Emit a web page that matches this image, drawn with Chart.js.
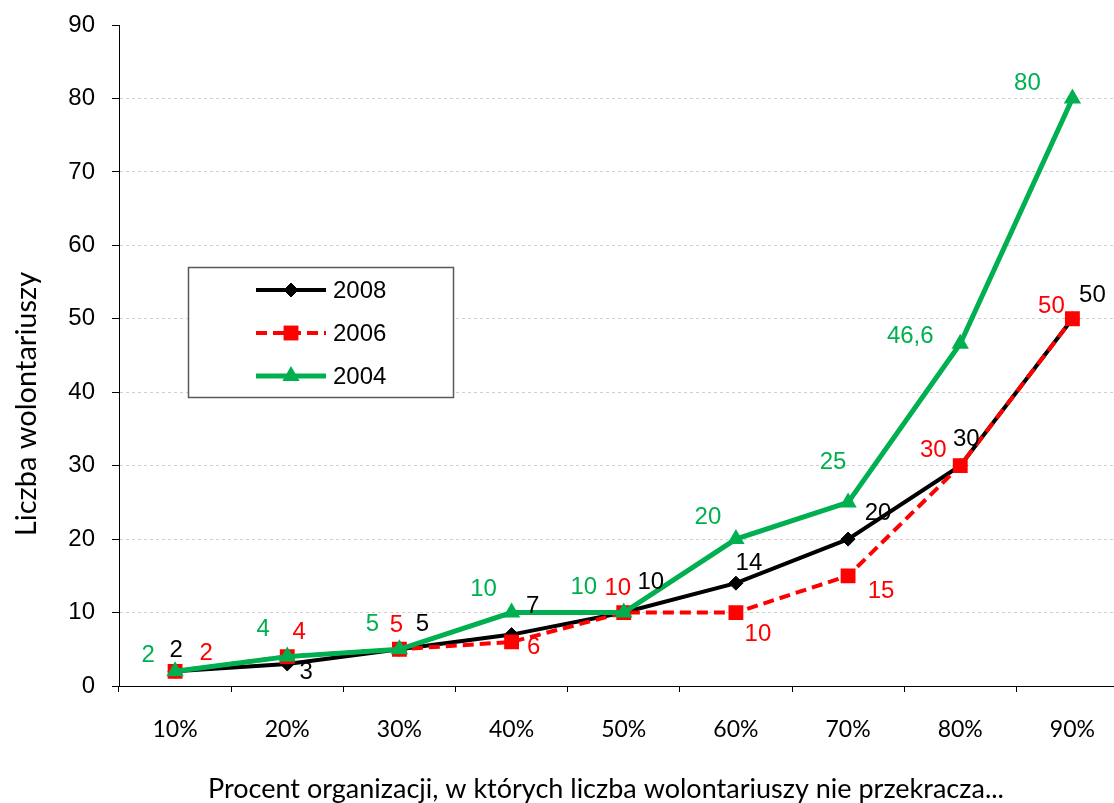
<!DOCTYPE html>
<html>
<head>
<meta charset="utf-8">
<script src="https://cdn.jsdelivr.net/npm/chart.js@4.4.1/dist/chart.umd.min.js"></script>
<style>
  html, body { margin: 0; padding: 0; background: #fff; overflow: hidden; }
  #wrap { width: 1114px; height: 803px; overflow: hidden; position: relative; }
  canvas { display: block; }
</style>
</head>
<body>
<div id="wrap"><canvas id="chart" width="1139" height="803"></canvas></div>
<script>
// ---- data ----
const categories = ['10%', '20%', '30%', '40%', '50%', '60%', '70%', '80%', '90%'];
const seriesNames = ['2008', '2006', '2004'];
const values2008 = [2, 3, 5, 7, 10, 14, 20, 30, 50];
const values2006 = [2, 4, 5, 6, 10, 10, 15, 30, 50];
const values2004 = [2, 4, 5, 10, 10, 20, 25, 46.6, 80];
const yMin = 0, yMax = 90, yStep = 10;
const xTitle = 'Procent organizacji, w których liczba wolontariuszy nie przekracza...';
const yTitle = 'Liczba wolontariuszy';

// ---- value label placement: pixel offsets from each point ----
const labelOffsets2008 = [[1,-21],[19,8],[23,-25],[21,-28],[27,-30],[13,-20],[30,-26],[6,-26],[20,-23]];
const labelOffsets2006 = [[31,-18],[12,-24],[-3,-24],[22,5],[-6,-24],[22,22],[33,16],[-27,-15],[-21,-12]];
const labelOffsets2004 = [[-27,-16],[-24,-27],[-27,-25],[-28,-23],[-40,-25],[-28,-22],[-15,-40],[-50,-7],[-45,-15]];

const ARIAL = "'Liberation Sans', Arial, sans-serif";
const CALI = "Lato, 'Open Sans', sans-serif";

const datasets = [
  {
    label: seriesNames[0], data: values2008,
    borderColor: '#000000', backgroundColor: '#000000',
    borderWidth: 4, pointStyle: 'rectRot', pointRadius: 7, pointBorderWidth: 1,
    pointBackgroundColor: '#000000', pointBorderColor: '#000000',
    order: 3, labelColor: '#000000', labelOffsets: labelOffsets2008
  },
  {
    label: seriesNames[1], data: values2006,
    borderColor: '#ff0000', backgroundColor: '#ff0000',
    borderWidth: 4, borderDash: [11, 6], pointStyle: 'rect', pointRadius: 10.5, pointBorderWidth: 0,
    pointBackgroundColor: '#ff0000', pointBorderColor: '#ff0000',
    order: 2, labelColor: '#ff0000', labelOffsets: labelOffsets2006
  },
  {
    label: seriesNames[2], data: values2004,
    borderColor: '#00b050', backgroundColor: '#00b050',
    borderWidth: 5, pointStyle: 'triangle', pointRadius: 10, pointBorderWidth: 0,
    pointBackgroundColor: '#00b050', pointBorderColor: '#00b050',
    order: 1, labelColor: '#00b050', labelOffsets: labelOffsets2004
  }
];

// value labels next to each point
const valueLabels = {
  id: 'valueLabels',
  afterDatasetsDraw(chart) {
    const ctx = chart.ctx;
    ctx.save();
    ctx.font = '24px ' + ARIAL;
    ctx.textAlign = 'center';
    ctx.textBaseline = 'middle';
    chart.data.datasets.forEach((ds, di) => {
      const meta = chart.getDatasetMeta(di);
      ctx.fillStyle = ds.labelColor;
      meta.data.forEach((pt, i) => {
        const off = ds.labelOffsets[i];
        const txt = String(ds.data[i]).replace('.', ',');
        ctx.fillText(txt, pt.x + off[0], pt.y + off[1]);
      });
    });
    ctx.restore();
  }
};

// boxed legend inside the plot area
const boxLegend = {
  id: 'boxLegend',
  afterDraw(chart) {
    const ctx = chart.ctx;
    const ca = chart.chartArea;
    const bx = ca.left + 69, by = ca.top + 242, bw = 265, bh = 130;
    ctx.save();
    ctx.fillStyle = '#ffffff';
    ctx.fillRect(bx, by, bw, bh);
    ctx.strokeStyle = '#5a5a5a';
    ctx.lineWidth = 1.5;
    ctx.strokeRect(bx + 0.5, by + 0.5, bw, bh);
    chart.data.datasets.forEach((ds, i) => {
      const y = by + 23 + i * 43;
      const x0 = bx + 68, x1 = bx + 138, xm = (x0 + x1) / 2;
      ctx.strokeStyle = ds.borderColor;
      ctx.lineWidth = ds.borderWidth;
      ctx.setLineDash(ds.borderDash || []);
      ctx.beginPath();
      ctx.moveTo(x0, y);
      ctx.lineTo(x1, y);
      ctx.stroke();
      ctx.setLineDash([]);
      ctx.fillStyle = ds.pointBackgroundColor;
      ctx.strokeStyle = ds.pointBorderColor;
      ctx.lineWidth = ds.pointBorderWidth;
      Chart.helpers.drawPoint(ctx, {
        pointStyle: ds.pointStyle, radius: ds.pointRadius, rotation: 0,
        borderWidth: ds.pointBorderWidth
      }, xm, y);
      ctx.fillStyle = '#000000';
      ctx.font = '24px ' + ARIAL;
      ctx.textAlign = 'left';
      ctx.textBaseline = 'middle';
      ctx.fillText(ds.label, x1 + 7, y + 1);
    });
    ctx.restore();
  }
};

// axis titles
const axisTitles = {
  id: 'axisTitles',
  afterDraw(chart) {
    const ctx = chart.ctx;
    ctx.save();
    ctx.fillStyle = '#000000';
    ctx.textAlign = 'center';
    ctx.textBaseline = 'middle';
    ctx.font = '27px ' + CALI;
    ctx.fillText(xTitle, 606, 789);
    ctx.translate(27, 404);
    ctx.rotate(-Math.PI / 2);
    ctx.font = '29px ' + CALI;
    ctx.fillText(yTitle, 0, 0);
    ctx.restore();
  }
};

new Chart(document.getElementById('chart'), {
  type: 'line',
  data: { labels: categories, datasets: datasets },
  options: {
    responsive: false,
    animation: false,
    layout: { padding: { left: 0, right: 3, top: 25, bottom: 0 } },
    elements: { line: { tension: 0, fill: false } },
    plugins: {
      legend: { display: false },
      tooltip: { enabled: false }
    },
    scales: {
      x: {
        offset: true,
        grid: {
          display: true, offset: true, drawOnChartArea: false, drawTicks: true,
          tickLength: 6, color: '#000000', tickColor: '#000000', lineWidth: 1
        },
        border: { display: true, color: '#000000', width: 1 },
        ticks: { color: '#000000', font: { family: CALI, size: 23 }, padding: 24, maxRotation: 0 },
        afterFit(s) { s.height = 117; s.paddingLeft = 0; s.paddingRight = 0; }
      },
      y: {
        min: yMin, max: yMax,
        grid: {
          color: (c) => (c.tick && (c.tick.value === yMin || c.tick.value === yMax)) ? 'rgba(0,0,0,0)' : '#d0d0d0',
          tickColor: '#000000', tickLength: 7, tickBorderDash: [], tickWidth: 1, lineWidth: 1
        },
        border: { display: true, color: '#000000', width: 1, dash: [3, 3] },
        ticks: { stepSize: yStep, color: '#000000', font: { family: ARIAL, size: 24 }, padding: 17 },
        afterFit(s) { s.width = 119; s.paddingTop = 0; s.paddingBottom = 0; }
      }
    }
  },
  plugins: [valueLabels, boxLegend, axisTitles]
});
</script>
</body>
</html>
